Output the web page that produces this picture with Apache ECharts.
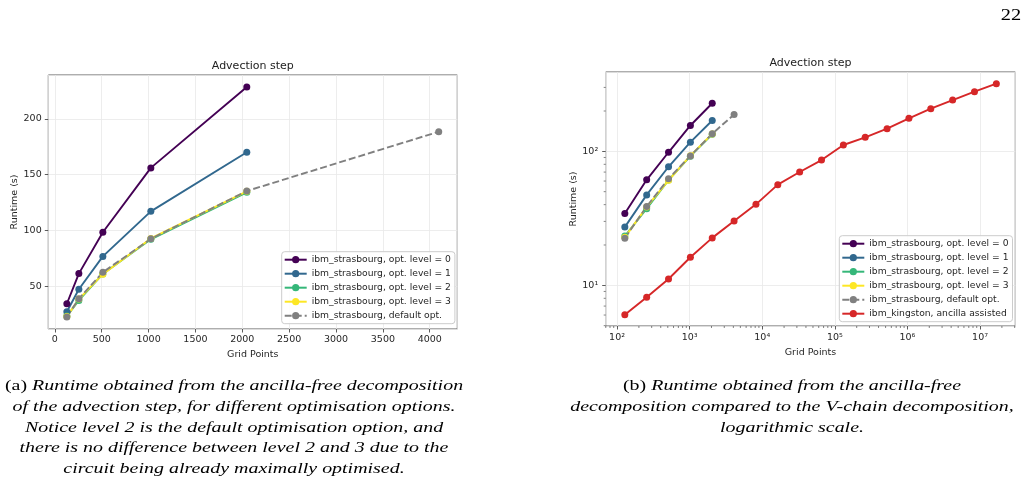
<!DOCTYPE html>
<html><head><meta charset="utf-8">
<script src="https://cdn.jsdelivr.net/npm/echarts@6/dist/echarts.min.js"></script>
<style>
html,body{margin:0;padding:0;background:#fff;}
#wrap{position:relative;width:1027px;height:484px;overflow:hidden;background:#fff;}
#chart{position:absolute;left:0;top:0;width:1027px;height:484px;}
.cap{position:absolute;font-family:"Liberation Serif","DejaVu Serif",serif;font-size:14.5px;color:#000;white-space:nowrap;transform-origin:center center;line-height:1;}
.cap i{font-style:italic;}
</style></head><body>
<div id="wrap"><div id="chart"></div></div>
<script>
// ---------- data ----------
const gridPoints = [128, 256, 512, 1024, 2048, 4096];
const level0 = [34.3, 61.3, 98.4, 156, 228.5];
const level1 = [27.2, 47.3, 76.7, 117.1, 170];
const level2 = [23.3, 37.3, 61, 92, 134.1];
const level3 = [22.8, 38.5, 60.8, 92.8, 135];
const defaultOpt = [22.5, 38.8, 62.5, 92.5, 135.3, 188.4];
const kingstonPoints = [128, 256, 512, 1024, 2048, 4096, 8192, 16384, 32768, 65536, 131072, 262144, 524288, 1048576, 2097152, 4194304, 8388608, 16777216];
const kingston = [6.04, 8.14, 11.15, 16.2, 22.6, 30.2, 40.2, 56.4, 70.1, 86.1, 111.5, 127.2, 147.6, 176.3, 208, 241.5, 278.7, 320];
const seriesNames = ['ibm_strasbourg, opt. level = 0', 'ibm_strasbourg, opt. level = 1', 'ibm_strasbourg, opt. level = 2', 'ibm_strasbourg, opt. level = 3', 'ibm_strasbourg, default opt.', 'ibm_kingston, ancilla assisted'];
const logXMinorTicks = [70, 80, 90, 200, 300, 400, 500, 600, 700, 800, 900, 2000, 3000, 4000, 5000, 6000, 7000, 8000, 9000, 20000, 30000, 40000, 50000, 60000, 70000, 80000, 90000, 200000, 300000, 400000, 500000, 600000, 700000, 800000, 900000, 2000000, 3000000, 4000000, 5000000, 6000000, 7000000, 8000000, 9000000, 20000000, 30000000];
const logYMinorTicks = [5, 6, 7, 8, 9, 20, 30, 40, 50, 60, 70, 80, 90, 200, 300];

const colors = ['#440154', '#31688e', '#35b779', '#fde725', '#808080', '#d62728'];
const FONT = 'DejaVu Sans';
const TXT = '#262626';

function zip(xs, ys) { return ys.map((y, i) => [xs[i], y]); }
const supMap = {'0':'⁰','1':'¹','2':'²','3':'³','4':'⁴','5':'⁵','6':'⁶','7':'⁷','8':'⁸','9':'⁹','-':'⁻'};
function logLabel(v) {
  const l = Math.log10(v), e = Math.round(l);
  if (Math.abs(l - e) > 1e-6) return '';
  return '10' + String(e).split('').map(c => supMap[c]).join('');
}
function plainLabel(v) { return String(Math.round(v)); }

function axisBase(extra) {
  return Object.assign({
    axisLine: {show: false, onZero: false},
    axisTick: {show: true, inside: false, length: 3.5, lineStyle: {color: '#333', width: 0.8}},
    splitLine: {show: true, lineStyle: {color: '#e8e8e8', width: 0.8}},
    minorTick: {show: false},
    nameLocation: 'middle',
    nameTextStyle: {fontFamily: FONT, fontSize: 9.5, color: TXT}
  }, extra);
}
function lbl(margin, fmt) {
  return {fontFamily: FONT, fontSize: 9.5, color: TXT, margin: margin, showMinLabel: false, showMaxLabel: false, formatter: fmt};
}

function lineSeries(name, data, color, xi, dashed) {
  return {
    type: 'line', name: name, data: data, xAxisIndex: xi, yAxisIndex: xi,
    symbol: 'circle', symbolSize: 7, showSymbol: true,
    itemStyle: {color: color, borderWidth: 0},
    lineStyle: {color: color, width: 1.9, type: dashed ? [7, 3] : 'solid'},
    emphasis: {disabled: true}, animation: false
  };
}

function minorTicks(values, axisDim, idx) {
  return {
    type: 'custom', xAxisIndex: idx, yAxisIndex: idx, clip: false, silent: true, z: 5,
    data: values.map(v => axisDim === 'x' ? [v, 10] : [1000, v]),
    renderItem: function (params, api) {
      const cs = params.coordSys;
      const p = api.coord([api.value(0), api.value(1)]);
      let shape;
      if (axisDim === 'x') {
        const yb = cs.y + cs.height;
        shape = {x1: p[0], y1: yb, x2: p[0], y2: yb + 2};
      } else {
        shape = {x1: cs.x - 2, y1: p[1], x2: cs.x, y2: p[1]};
      }
      return {type: 'line', shape: shape, style: {stroke: '#333', lineWidth: 0.6}};
    }
  };
}

const strasLevels = [level0, level1, level2, level3];
const series = [];
strasLevels.forEach((vals, i) => series.push(lineSeries(seriesNames[i], zip(gridPoints, vals), colors[i], 0, false)));
series.push(lineSeries(seriesNames[4], zip(gridPoints, defaultOpt), colors[4], 0, true));
strasLevels.forEach((vals, i) => series.push(lineSeries(seriesNames[i], zip(gridPoints, vals), colors[i], 1, false)));
series.push(lineSeries(seriesNames[4], zip(gridPoints, defaultOpt), colors[4], 1, true));
series.push(lineSeries(seriesNames[5], zip(kingstonPoints, kingston), colors[5], 1, false));
series.push(minorTicks(logXMinorTicks, 'x', 1));
series.push(minorTicks(logYMinorTicks, 'y', 1));

const legendCommon = {
  orient: 'vertical', itemWidth: 22, itemHeight: 9, itemGap: 0,
  padding: [1, 4, 1, 2], backgroundColor: 'rgba(255,255,255,0.85)',
  borderColor: '#cccccc', borderWidth: 1, borderRadius: 3,
  textStyle: {fontFamily: FONT, fontSize: 9.2, color: TXT, lineHeight: 14},
  selectedMode: false
};

const option = {
  animation: false,
  backgroundColor: '#fff',
  grid: [
    {left: 48.3, top: 75, width: 409, height: 254, show: true, borderColor: '#333', borderWidth: 0.8, backgroundColor: 'transparent'},
    {left: 605.7, top: 72, width: 409.6, height: 254, show: true, borderColor: '#333', borderWidth: 0.8, backgroundColor: 'transparent'}
  ],
  xAxis: [
    axisBase({gridIndex: 0, type: 'value', min: -70, max: 4294, minInterval: 500, maxInterval: 500, name: 'Grid Points', nameGap: 18.5,
      axisLabel: lbl(5.5, plainLabel)}),
    axisBase({gridIndex: 1, type: 'log', logBase: 10, min: 69.8, max: 30600000, name: 'Grid Points', nameGap: 20.5,
      axisLabel: lbl(6.5, logLabel)})
  ],
  yAxis: [
    axisBase({gridIndex: 0, type: 'value', min: 11.7, max: 239.2, minInterval: 50, maxInterval: 50, name: 'Runtime (s)', nameGap: 27.5,
      axisLabel: lbl(6.6, plainLabel)}),
    axisBase({gridIndex: 1, type: 'log', logBase: 10, min: 4.97, max: 391, name: 'Runtime (s)', nameGap: 27.5,
      axisLabel: lbl(7.5, logLabel)})
  ],
  legend: [
    Object.assign({}, legendCommon, {left: 281.7, top: 251.7, data: seriesNames.slice(0, 5)}),
    Object.assign({}, legendCommon, {left: 839.3, top: 235.7, data: seriesNames.slice(0, 6)})
  ],
  graphic: [
    {type: 'text', x: 252.8, y: 65.7, style: {text: 'Advection step', fontFamily: FONT, fontSize: 11, fill: '#222', align: 'center', verticalAlign: 'middle'}},
    {type: 'text', x: 810.5, y: 62.7, style: {text: 'Advection step', fontFamily: FONT, fontSize: 11, fill: '#222', align: 'center', verticalAlign: 'middle'}}
  ],
  series: series
};

const chart = echarts.init(document.getElementById('chart'), null, {renderer: 'canvas'});
chart.setOption(option);

// ---------- captions ----------
const capA = [
  ['(a) ', 'Runtime obtained from the ancilla-free decomposition'],
  ['', 'of the advection step, for different optimisation options.'],
  ['', 'Notice level 2 is the default optimisation option, and'],
  ['', 'there is no difference between level 2 and 3 due to the'],
  ['', 'circuit being already maximally optimised.']
];
const capB = [
  ['(b) ', 'Runtime obtained from the ancilla-free'],
  ['', 'decomposition compared to the V-chain decomposition,'],
  ['', 'logarithmic scale.']
];
const wrap = document.getElementById('wrap');
function addLines(lines, cx, y0, dy) {
  const els = [];
  lines.forEach((l, i) => {
    const d = document.createElement('div');
    d.className = 'cap';
    d.innerHTML = (l[0] ? l[0] : '') + '<i>' + l[1] + '</i>';
    d.style.left = cx + 'px';
    d.style.top = (y0 + i * dy) + 'px';
    wrap.appendChild(d);
    els.push(d);
  });
  return els;
}
const elsA = addLines(capA, 234, 385, 20.75);
const elsB = addLines(capB, 792, 385, 20.75);
const s = 458 / elsA[0].offsetWidth;
elsA.concat(elsB).forEach(d => { d.style.transform = 'translate(-50%,-50%) scaleX(' + s + ')'; });

const pg = document.createElement('div');
pg.className = 'cap';
pg.style.fontSize = '17px';
pg.textContent = '22';
pg.style.left = '1010.7px';
pg.style.top = '14px';
pg.style.transform = 'translate(-50%,-50%) scaleX(1.2)';
wrap.appendChild(pg);
</script>
</body></html>
